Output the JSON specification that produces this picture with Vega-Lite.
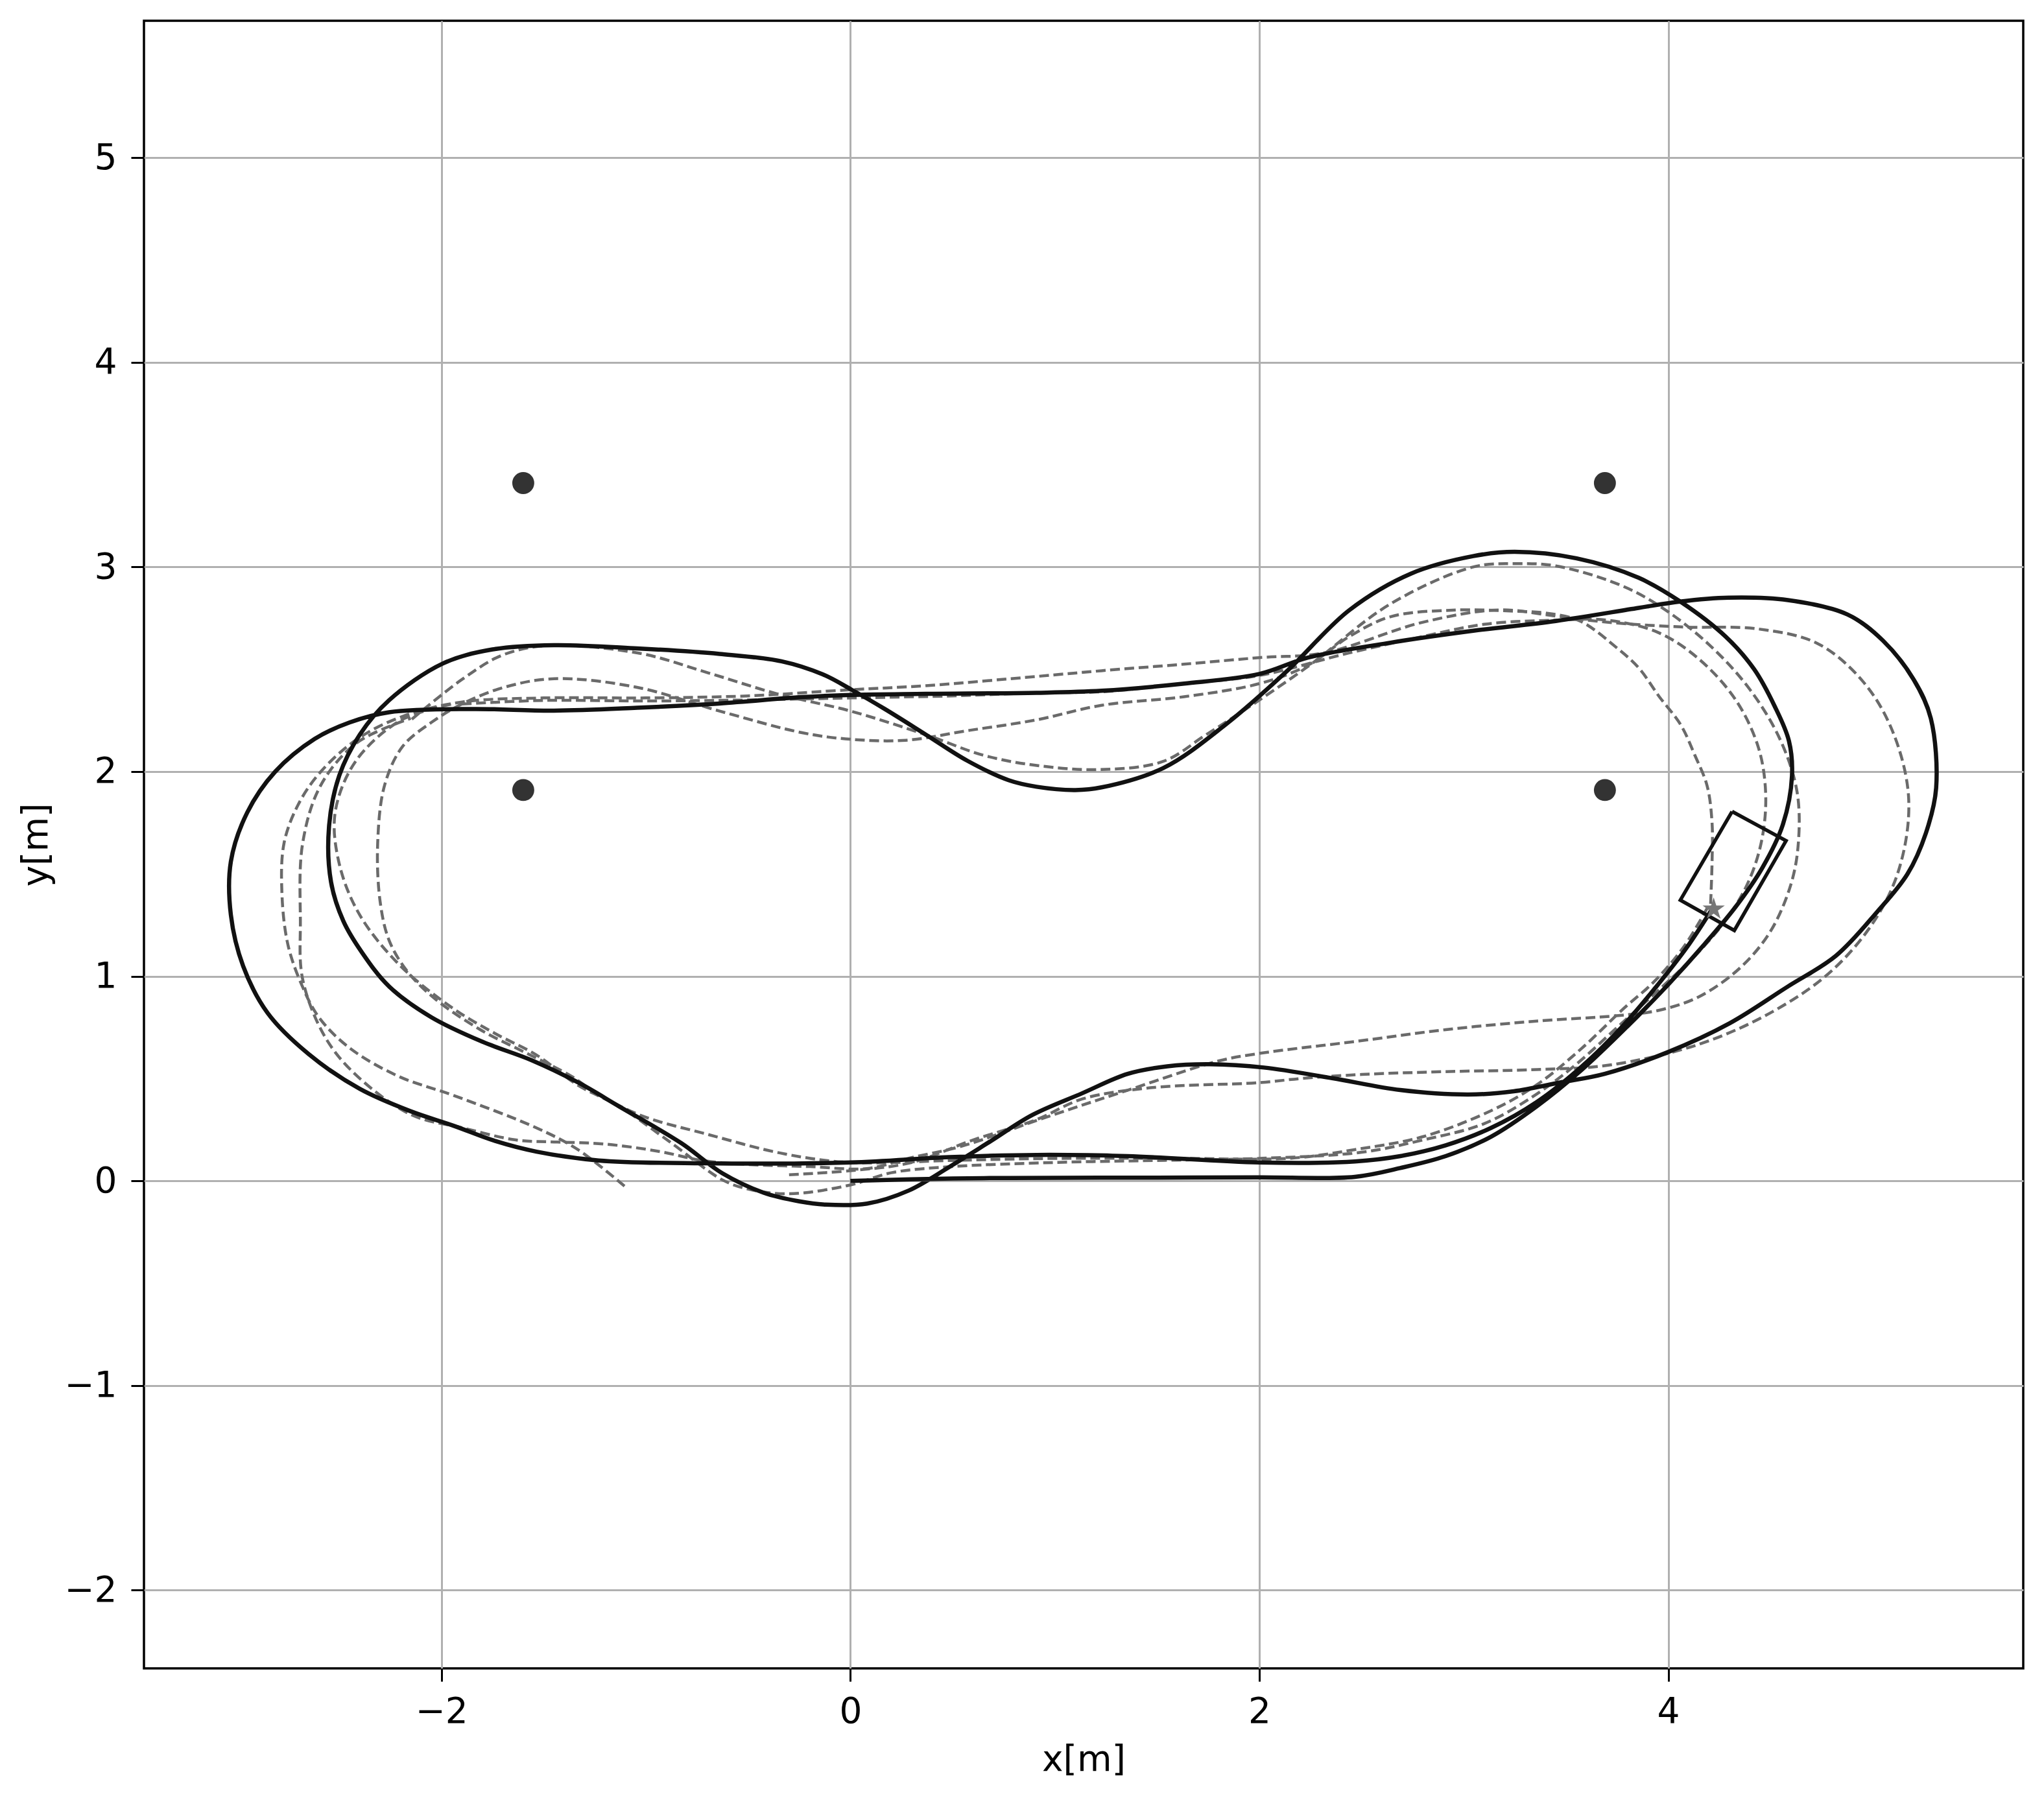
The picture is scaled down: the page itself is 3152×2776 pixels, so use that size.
{
"$schema": "https://vega.github.io/schema/vega-lite/v6.json",
"width": 2898, "height": 2541,
"autosize": {"type": "none"},
"padding": {"left": 222, "top": 32, "right": 32, "bottom": 203},
"config": {
 "view": {"stroke": "#000", "strokeWidth": 3.5},
 "axis": {"grid": true, "gridColor": "#b0b0b0", "gridWidth": 3, "domain": false, "ticks": true, "tickColor": "#000", "tickSize": 20, "tickWidth": 3, "labelFont": "DejaVu Sans", "labelFontSize": 55, "labelColor": "#000", "titleFont": "DejaVu Sans", "titleFontSize": 55, "titleFontWeight": "normal", "titleColor": "#000"}
},
"datasets": {
 "ds_solid": [
  {"o":0,"x":0,"y":0},{"o":1,"x":0.5,"y":0.012},{"o":2,"x":1.0,"y":0.015},{"o":3,"x":1.5,"y":0.016},{"o":4,"x":2.0,"y":0.017},{"o":5,"x":2.467,"y":0.02},{"o":6,"x":2.689,"y":0.063},{"o":7,"x":2.911,"y":0.121},{"o":8,"x":3.133,"y":0.216},{"o":9,"x":3.356,"y":0.364},{"o":10,"x":3.578,"y":0.544},{"o":11,"x":3.8,"y":0.755},{"o":12,"x":4.0,"y":0.96},{"o":13,"x":4.18,"y":1.16},{"o":14,"x":4.33,"y":1.34},{"o":15,"x":4.46,"y":1.53},{"o":16,"x":4.56,"y":1.74},{"o":17,"x":4.605,"y":1.98},{"o":18,"x":4.59,"y":2.15},{"o":19,"x":4.52,"y":2.32},{"o":20,"x":4.42,"y":2.5},{"o":21,"x":4.28,"y":2.66},{"o":22,"x":4.06,"y":2.83},{"o":23,"x":3.855,"y":2.947},{"o":24,"x":3.552,"y":3.042},{"o":25,"x":3.248,"y":3.074},{"o":26,"x":3.046,"y":3.053},{"o":27,"x":2.743,"y":2.968},{"o":28,"x":2.44,"y":2.789},{"o":29,"x":2.137,"y":2.493},{"o":30,"x":1.834,"y":2.229},{"o":31,"x":1.531,"y":2.018},{"o":32,"x":1.228,"y":1.923},{"o":33,"x":1.1,"y":1.91},{"o":34,"x":0.911,"y":1.926},{"o":35,"x":0.774,"y":1.958},{"o":36,"x":0.572,"y":2.053},{"o":37,"x":0.37,"y":2.18},{"o":38,"x":0.168,"y":2.306},{"o":39,"x":0.006,"y":2.4},{"o":40,"x":-0.135,"y":2.475},{"o":41,"x":-0.337,"y":2.539},{"o":42,"x":-0.64,"y":2.575},{"o":43,"x":-1.044,"y":2.602},{"o":44,"x":-1.45,"y":2.618},{"o":45,"x":-1.75,"y":2.597},{"o":46,"x":-1.994,"y":2.528},{"o":47,"x":-2.257,"y":2.348},{"o":48,"x":-2.4,"y":2.18},{"o":49,"x":-2.5,"y":1.98},{"o":50,"x":-2.55,"y":1.73},{"o":51,"x":-2.54,"y":1.46},{"o":52,"x":-2.48,"y":1.27},{"o":53,"x":-2.39,"y":1.118},{"o":54,"x":-2.256,"y":0.95},{"o":55,"x":-2.05,"y":0.8},{"o":56,"x":-1.8,"y":0.68},{"o":57,"x":-1.56,"y":0.59},{"o":58,"x":-1.33,"y":0.48},{"o":59,"x":-1.131,"y":0.364},{"o":60,"x":-0.828,"y":0.185},{"o":61,"x":-0.626,"y":0.037},{"o":62,"x":-0.424,"y":-0.058},{"o":63,"x":-0.25,"y":-0.1},{"o":64,"x":-0.121,"y":-0.116},{"o":65,"x":0.081,"y":-0.111},{"o":66,"x":0.283,"y":-0.048},{"o":67,"x":0.485,"y":0.069},{"o":68,"x":0.687,"y":0.195},{"o":69,"x":0.889,"y":0.322},{"o":70,"x":1.133,"y":0.428},{"o":71,"x":1.356,"y":0.523},{"o":72,"x":1.55,"y":0.56},{"o":73,"x":1.757,"y":0.57},{"o":74,"x":2.022,"y":0.554},{"o":75,"x":2.356,"y":0.502},{"o":76,"x":2.689,"y":0.444},{"o":77,"x":3.022,"y":0.422},{"o":78,"x":3.244,"y":0.438},{"o":79,"x":3.467,"y":0.48},{"o":80,"x":3.689,"y":0.523},{"o":81,"x":4.0,"y":0.63},{"o":82,"x":4.3,"y":0.77},{"o":83,"x":4.585,"y":0.95},{"o":84,"x":4.82,"y":1.1},{"o":85,"x":5.02,"y":1.313},{"o":86,"x":5.17,"y":1.5},{"o":87,"x":5.26,"y":1.7},{"o":88,"x":5.31,"y":1.92},{"o":89,"x":5.284,"y":2.26},{"o":90,"x":5.2,"y":2.45},{"o":91,"x":5.05,"y":2.64},{"o":92,"x":4.876,"y":2.768},{"o":93,"x":4.585,"y":2.838},{"o":94,"x":4.294,"y":2.85},{"o":95,"x":4.057,"y":2.831},{"o":96,"x":3.855,"y":2.8},{"o":97,"x":3.45,"y":2.736},{"o":98,"x":3.046,"y":2.688},{"o":99,"x":2.642,"y":2.63},{"o":100,"x":2.238,"y":2.557},{"o":101,"x":2.0,"y":2.477},{"o":102,"x":1.632,"y":2.43},{"o":103,"x":1.228,"y":2.395},{"o":104,"x":0.911,"y":2.385},{"o":105,"x":0.37,"y":2.38},{"o":106,"x":0,"y":2.375},{"o":107,"x":-0.236,"y":2.364},{"o":108,"x":-0.64,"y":2.333},{"o":109,"x":-1.044,"y":2.312},{"o":110,"x":-1.45,"y":2.298},{"o":111,"x":-1.85,"y":2.306},{"o":112,"x":-2.257,"y":2.29},{"o":113,"x":-2.45,"y":2.24},{"o":114,"x":-2.62,"y":2.16},{"o":115,"x":-2.813,"y":2.0},{"o":116,"x":-2.95,"y":1.8},{"o":117,"x":-3.03,"y":1.56},{"o":118,"x":-3.03,"y":1.3},{"o":119,"x":-2.97,"y":1.05},{"o":120,"x":-2.85,"y":0.82},{"o":121,"x":-2.65,"y":0.62},{"o":122,"x":-2.4,"y":0.45},{"o":123,"x":-2.15,"y":0.34},{"o":124,"x":-1.939,"y":0.269},{"o":125,"x":-1.737,"y":0.195},{"o":126,"x":-1.535,"y":0.143},{"o":127,"x":-1.232,"y":0.1},{"o":128,"x":-0.727,"y":0.086},{"o":129,"x":0,"y":0.09},{"o":130,"x":0.485,"y":0.116},{"o":131,"x":0.911,"y":0.127},{"o":132,"x":1.356,"y":0.121},{"o":133,"x":2.0,"y":0.09},{"o":134,"x":2.467,"y":0.095},{"o":135,"x":2.689,"y":0.121},{"o":136,"x":2.911,"y":0.174},{"o":137,"x":3.133,"y":0.259},{"o":138,"x":3.356,"y":0.385},{"o":139,"x":3.578,"y":0.56},{"o":140,"x":3.78,"y":0.76},{"o":141,"x":3.95,"y":0.96},{"o":142,"x":4.09,"y":1.14},{"o":143,"x":4.215,"y":1.33}
 ],
 "ds_dashed": [
  {"path":"D1","o":0,"x":4.207,"y":1.354},{"path":"D1","o":1,"x":4.214,"y":1.556},{"path":"D1","o":2,"x":4.214,"y":1.75},{"path":"D1","o":3,"x":4.19,"y":1.93},{"path":"D1","o":4,"x":4.13,"y":2.08},{"path":"D1","o":5,"x":4.06,"y":2.23},{"path":"D1","o":6,"x":3.956,"y":2.366},{"path":"D1","o":7,"x":3.857,"y":2.505},{"path":"D1","o":8,"x":3.754,"y":2.6},{"path":"D1","o":9,"x":3.566,"y":2.737},{"path":"D1","o":10,"x":3.4,"y":2.775},{"path":"D1","o":11,"x":3.248,"y":2.784},{"path":"D1","o":12,"x":2.945,"y":2.789},{"path":"D1","o":13,"x":2.642,"y":2.757},{"path":"D1","o":14,"x":2.44,"y":2.66},{"path":"D1","o":15,"x":2.238,"y":2.52},{"path":"D1","o":16,"x":2.0,"y":2.43},{"path":"D1","o":17,"x":1.632,"y":2.366},{"path":"D1","o":18,"x":1.228,"y":2.324},{"path":"D1","o":19,"x":0.911,"y":2.253},{"path":"D1","o":20,"x":0.572,"y":2.2},{"path":"D1","o":21,"x":0.269,"y":2.153},{"path":"D1","o":22,"x":0,"y":2.158},{"path":"D1","o":23,"x":-0.236,"y":2.19},{"path":"D1","o":24,"x":-0.64,"y":2.296},{"path":"D1","o":25,"x":-1.044,"y":2.412},{"path":"D1","o":26,"x":-1.45,"y":2.454},{"path":"D1","o":27,"x":-1.7,"y":2.41},{"path":"D1","o":28,"x":-1.9,"y":2.33},{"path":"D1","o":29,"x":-2.05,"y":2.24},{"path":"D1","o":30,"x":-2.19,"y":2.123},{"path":"D1","o":31,"x":-2.278,"y":1.934},{"path":"D1","o":32,"x":-2.312,"y":1.649},{"path":"D1","o":33,"x":-2.3,"y":1.365},{"path":"D1","o":34,"x":-2.256,"y":1.175},{"path":"D1","o":35,"x":-2.167,"y":1.024},{"path":"D1","o":36,"x":-2.033,"y":0.891},{"path":"D1","o":37,"x":-1.81,"y":0.739},{"path":"D1","o":38,"x":-1.588,"y":0.626},{"path":"D1","o":39,"x":-1.365,"y":0.512},{"path":"D1","o":40,"x":-1.254,"y":0.436},{"path":"D1","o":41,"x":-1.03,"y":0.322},{"path":"D1","o":42,"x":-0.697,"y":0.227},{"path":"D1","o":43,"x":-0.323,"y":0.132},{"path":"D1","o":44,"x":0,"y":0.09},{"path":"D1","o":45,"x":0.5,"y":0.1},{"path":"D1","o":46,"x":1.0,"y":0.11},{"path":"D1","o":47,"x":1.6,"y":0.11},{"path":"D1","o":48,"x":2.156,"y":0.111},{"path":"D1","o":49,"x":2.467,"y":0.153},{"path":"D1","o":50,"x":2.8,"y":0.216},{"path":"D1","o":51,"x":3.133,"y":0.343},{"path":"D1","o":52,"x":3.356,"y":0.469},{"path":"D1","o":53,"x":3.578,"y":0.649},{"path":"D1","o":54,"x":3.778,"y":0.839},{"path":"D1","o":55,"x":3.933,"y":0.976},{"path":"D1","o":56,"x":4.08,"y":1.15},{"path":"D1","o":57,"x":4.2,"y":1.35},
  {"path":"D2","o":0,"x":-2.145,"y":2.256},{"path":"D2","o":1,"x":-1.9,"y":2.45},{"path":"D2","o":2,"x":-1.7,"y":2.57},{"path":"D2","o":3,"x":-1.477,"y":2.616},{"path":"D2","o":4,"x":-1.031,"y":2.578},{"path":"D2","o":5,"x":-0.697,"y":2.483},{"path":"D2","o":6,"x":-0.358,"y":2.38},{"path":"D2","o":7,"x":0,"y":2.296},{"path":"D2","o":8,"x":0.37,"y":2.18},{"path":"D2","o":9,"x":0.65,"y":2.08},{"path":"D2","o":10,"x":0.911,"y":2.03},{"path":"D2","o":11,"x":1.22,"y":2.01},{"path":"D2","o":12,"x":1.53,"y":2.05},{"path":"D2","o":13,"x":1.733,"y":2.176},{"path":"D2","o":14,"x":1.895,"y":2.28},{"path":"D2","o":15,"x":2.238,"y":2.514},{"path":"D2","o":16,"x":2.642,"y":2.82},{"path":"D2","o":17,"x":3.046,"y":3.0},{"path":"D2","o":18,"x":3.248,"y":3.016},{"path":"D2","o":19,"x":3.45,"y":3.005},{"path":"D2","o":20,"x":3.754,"y":2.916},{"path":"D2","o":21,"x":3.956,"y":2.81},{"path":"D2","o":22,"x":4.2,"y":2.62},{"path":"D2","o":23,"x":4.4,"y":2.4},{"path":"D2","o":24,"x":4.55,"y":2.15},{"path":"D2","o":25,"x":4.63,"y":1.9},{"path":"D2","o":26,"x":4.636,"y":1.65},{"path":"D2","o":27,"x":4.6,"y":1.45},{"path":"D2","o":28,"x":4.5,"y":1.22},{"path":"D2","o":29,"x":4.35,"y":1.04},{"path":"D2","o":30,"x":4.15,"y":0.9},{"path":"D2","o":31,"x":3.956,"y":0.834},{"path":"D2","o":32,"x":3.756,"y":0.808},{"path":"D2","o":33,"x":3.356,"y":0.781},{"path":"D2","o":34,"x":2.911,"y":0.739},{"path":"D2","o":35,"x":2.467,"y":0.681},{"path":"D2","o":36,"x":2.0,"y":0.623},{"path":"D2","o":37,"x":1.8,"y":0.586},{"path":"D2","o":38,"x":1.356,"y":0.443},{"path":"D2","o":39,"x":0.956,"y":0.311},{"path":"D2","o":40,"x":0.545,"y":0.17},{"path":"D2","o":41,"x":0.283,"y":0.11},{"path":"D2","o":42,"x":0.081,"y":0.06},{"path":"D2","o":43,"x":-0.2,"y":0.07},{"path":"D2","o":44,"x":-0.5,"y":0.08},{"path":"D2","o":45,"x":-0.727,"y":0.1},{"path":"D2","o":46,"x":-0.929,"y":0.143},{"path":"D2","o":47,"x":-1.2,"y":0.18},{"path":"D2","o":48,"x":-1.434,"y":0.19},{"path":"D2","o":49,"x":-1.636,"y":0.2},{"path":"D2","o":50,"x":-1.9,"y":0.26},{"path":"D2","o":51,"x":-2.145,"y":0.322},{"path":"D2","o":52,"x":-2.412,"y":0.512},{"path":"D2","o":53,"x":-2.568,"y":0.701},{"path":"D2","o":54,"x":-2.679,"y":0.986},{"path":"D2","o":55,"x":-2.69,"y":1.27},{"path":"D2","o":56,"x":-2.679,"y":1.649},{"path":"D2","o":57,"x":-2.59,"y":1.934},{"path":"D2","o":58,"x":-2.412,"y":2.142},{"path":"D2","o":59,"x":-2.15,"y":2.26},
  {"path":"D3","o":0,"x":-0.3,"y":0.03},{"path":"D3","o":1,"x":0,"y":0.05},{"path":"D3","o":2,"x":0.3,"y":0.09},{"path":"D3","o":3,"x":0.6,"y":0.2},{"path":"D3","o":4,"x":0.911,"y":0.3},{"path":"D3","o":5,"x":1.133,"y":0.4},{"path":"D3","o":6,"x":1.467,"y":0.455},{"path":"D3","o":7,"x":2.0,"y":0.48},{"path":"D3","o":8,"x":2.2,"y":0.5},{"path":"D3","o":9,"x":2.5,"y":0.52},{"path":"D3","o":10,"x":2.911,"y":0.534},{"path":"D3","o":11,"x":3.356,"y":0.544},{"path":"D3","o":12,"x":3.712,"y":0.566},{"path":"D3","o":13,"x":4.148,"y":0.667},{"path":"D3","o":14,"x":4.512,"y":0.828},{"path":"D3","o":15,"x":4.803,"y":1.03},{"path":"D3","o":16,"x":5.022,"y":1.293},{"path":"D3","o":17,"x":5.138,"y":1.556},{"path":"D3","o":18,"x":5.175,"y":1.879},{"path":"D3","o":19,"x":5.095,"y":2.202},{"path":"D3","o":20,"x":4.949,"y":2.444},{"path":"D3","o":21,"x":4.73,"y":2.626},{"path":"D3","o":22,"x":4.44,"y":2.697},{"path":"D3","o":23,"x":4.061,"y":2.707},{"path":"D3","o":24,"x":3.7,"y":2.73},{"path":"D3","o":25,"x":3.45,"y":2.76},{"path":"D3","o":26,"x":3.17,"y":2.79},{"path":"D3","o":27,"x":2.8,"y":2.73},{"path":"D3","o":28,"x":2.316,"y":2.58},{"path":"D3","o":29,"x":2.0,"y":2.557},{"path":"D3","o":30,"x":1.632,"y":2.525},{"path":"D3","o":31,"x":1.228,"y":2.493},{"path":"D3","o":32,"x":0.911,"y":2.465},{"path":"D3","o":33,"x":0.37,"y":2.42},{"path":"D3","o":34,"x":0,"y":2.4},{"path":"D3","o":35,"x":-0.5,"y":2.37},{"path":"D3","o":36,"x":-1.0,"y":2.36},{"path":"D3","o":37,"x":-1.5,"y":2.36},{"path":"D3","o":38,"x":-1.9,"y":2.34},{"path":"D3","o":39,"x":-2.19,"y":2.27},{"path":"D3","o":40,"x":-2.41,"y":2.16},{"path":"D3","o":41,"x":-2.59,"y":2.0},{"path":"D3","o":42,"x":-2.7,"y":1.84},{"path":"D3","o":43,"x":-2.77,"y":1.65},{"path":"D3","o":44,"x":-2.78,"y":1.4},{"path":"D3","o":45,"x":-2.75,"y":1.15},{"path":"D3","o":46,"x":-2.68,"y":0.95},{"path":"D3","o":47,"x":-2.6,"y":0.8},{"path":"D3","o":48,"x":-2.45,"y":0.65},{"path":"D3","o":49,"x":-2.212,"y":0.512},{"path":"D3","o":50,"x":-1.939,"y":0.417},{"path":"D3","o":51,"x":-1.535,"y":0.259},{"path":"D3","o":52,"x":-1.333,"y":0.153},{"path":"D3","o":53,"x":-1.091,"y":-0.037},
  {"path":"D4","o":0,"x":-1.9,"y":2.33},{"path":"D4","o":1,"x":-1.5,"y":2.348},{"path":"D4","o":2,"x":-1.0,"y":2.345},{"path":"D4","o":3,"x":-0.5,"y":2.35},{"path":"D4","o":4,"x":0,"y":2.36},{"path":"D4","o":5,"x":0.5,"y":2.37},{"path":"D4","o":6,"x":0.911,"y":2.385},{"path":"D4","o":7,"x":1.228,"y":2.39},{"path":"D4","o":8,"x":1.632,"y":2.43},{"path":"D4","o":9,"x":2.0,"y":2.47},{"path":"D4","o":10,"x":2.44,"y":2.58},{"path":"D4","o":11,"x":2.8,"y":2.66},{"path":"D4","o":12,"x":3.1,"y":2.72},{"path":"D4","o":13,"x":3.45,"y":2.74},{"path":"D4","o":14,"x":3.7,"y":2.74},{"path":"D4","o":15,"x":3.95,"y":2.68},{"path":"D4","o":16,"x":4.15,"y":2.55},{"path":"D4","o":17,"x":4.33,"y":2.35},{"path":"D4","o":18,"x":4.44,"y":2.12},{"path":"D4","o":19,"x":4.476,"y":1.9},{"path":"D4","o":20,"x":4.46,"y":1.68},{"path":"D4","o":21,"x":4.4,"y":1.48},{"path":"D4","o":22,"x":4.3,"y":1.3},{"path":"D4","o":23,"x":4.15,"y":1.12},{"path":"D4","o":24,"x":3.95,"y":0.93},{"path":"D4","o":25,"x":3.75,"y":0.75},{"path":"D4","o":26,"x":3.55,"y":0.57},{"path":"D4","o":27,"x":3.35,"y":0.42},{"path":"D4","o":28,"x":3.1,"y":0.28},{"path":"D4","o":29,"x":2.8,"y":0.2},{"path":"D4","o":30,"x":2.5,"y":0.14},{"path":"D4","o":31,"x":2.0,"y":0.11},{"path":"D4","o":32,"x":1.5,"y":0.1},{"path":"D4","o":33,"x":1.0,"y":0.09},{"path":"D4","o":34,"x":0.5,"y":0.07},{"path":"D4","o":35,"x":0.2,"y":0.04},{"path":"D4","o":36,"x":0,"y":-0.02},{"path":"D4","o":37,"x":-0.303,"y":-0.063},{"path":"D4","o":38,"x":-0.5,"y":-0.04},{"path":"D4","o":39,"x":-0.626,"y":0.005},{"path":"D4","o":40,"x":-0.889,"y":0.195},{"path":"D4","o":41,"x":-1.131,"y":0.364},{"path":"D4","o":42,"x":-1.333,"y":0.468},{"path":"D4","o":43,"x":-1.535,"y":0.615},{"path":"D4","o":44,"x":-1.737,"y":0.72},{"path":"D4","o":45,"x":-1.939,"y":0.84},{"path":"D4","o":46,"x":-2.2,"y":1.05},{"path":"D4","o":47,"x":-2.4,"y":1.3},{"path":"D4","o":48,"x":-2.5,"y":1.55},{"path":"D4","o":49,"x":-2.52,"y":1.8},{"path":"D4","o":50,"x":-2.42,"y":2.05},{"path":"D4","o":51,"x":-2.2,"y":2.25},{"path":"D4","o":52,"x":-1.95,"y":2.33}
 ],
 "ds_box": [
  {"o":0,"x":4.312,"y":1.805},{"o":1,"x":4.576,"y":1.662},{"o":2,"x":4.323,"y":1.224},{"o":3,"x":4.059,"y":1.372},{"o":4,"x":4.312,"y":1.805}
 ],
 "ds_dots": [
  {"x":-1.6,"y":3.41},{"x":3.69,"y":3.41},{"x":-1.6,"y":1.91},{"x":3.69,"y":1.91}
 ],
 "ds_star": [
  {"x":4.222,"y":1.328}
 ]
},
"layer": [
 {"data": {"name": "ds_dashed"}, "mark": {"type": "line", "stroke": "#6a6a6a", "strokeWidth": 4.5, "strokeDash": [15, 7], "interpolate": "catmull-rom"},
  "encoding": {
   "x": {"field": "x", "type": "quantitative", "title": "x[m]", "scale": {"domain": [-3.455, 5.736], "nice": false, "zero": false}, "axis": {"orient": "bottom", "values": [-2, 0, 2, 4], "format": "d", "labelPadding": 20, "titlePadding": 20}},
   "y": {"field": "y", "type": "quantitative", "title": "y[m]", "scale": {"domain": [-2.382, 5.669], "nice": false, "zero": false}, "axis": {"orient": "left", "values": [-2, -1, 0, 1, 2, 3, 4, 5], "format": "d", "labelPadding": 22, "titlePadding": 14}},
   "order": {"field": "o", "type": "quantitative"},
   "detail": {"field": "path", "type": "nominal"}}},
 {"data": {"name": "ds_solid"}, "mark": {"type": "line", "stroke": "#111111", "strokeWidth": 6.5, "interpolate": "catmull-rom", "strokeJoin": "round"},
  "encoding": {
   "x": {"field": "x", "type": "quantitative"},
   "y": {"field": "y", "type": "quantitative"},
   "order": {"field": "o", "type": "quantitative"}}},
 {"data": {"name": "ds_box"}, "mark": {"type": "line", "stroke": "#111111", "strokeWidth": 5.5, "strokeJoin": "miter"},
  "encoding": {
   "x": {"field": "x", "type": "quantitative"},
   "y": {"field": "y", "type": "quantitative"},
   "order": {"field": "o", "type": "quantitative"}}},
 {"data": {"name": "ds_dots"}, "mark": {"type": "point", "shape": "circle", "filled": true, "color": "#333333", "opacity": 1, "size": 1150},
  "encoding": {
   "x": {"field": "x", "type": "quantitative"},
   "y": {"field": "y", "type": "quantitative"}}},
 {"data": {"name": "ds_star"}, "mark": {"type": "point", "shape": "M0,-1L0.2245,-0.309L0.951,-0.309L0.363,0.118L0.588,0.809L0,0.382L-0.588,0.809L-0.363,0.118L-0.951,-0.309L-0.2245,-0.309Z", "filled": true, "color": "#777777", "opacity": 1, "size": 1300},
  "encoding": {
   "x": {"field": "x", "type": "quantitative"},
   "y": {"field": "y", "type": "quantitative"}}}
]
}
